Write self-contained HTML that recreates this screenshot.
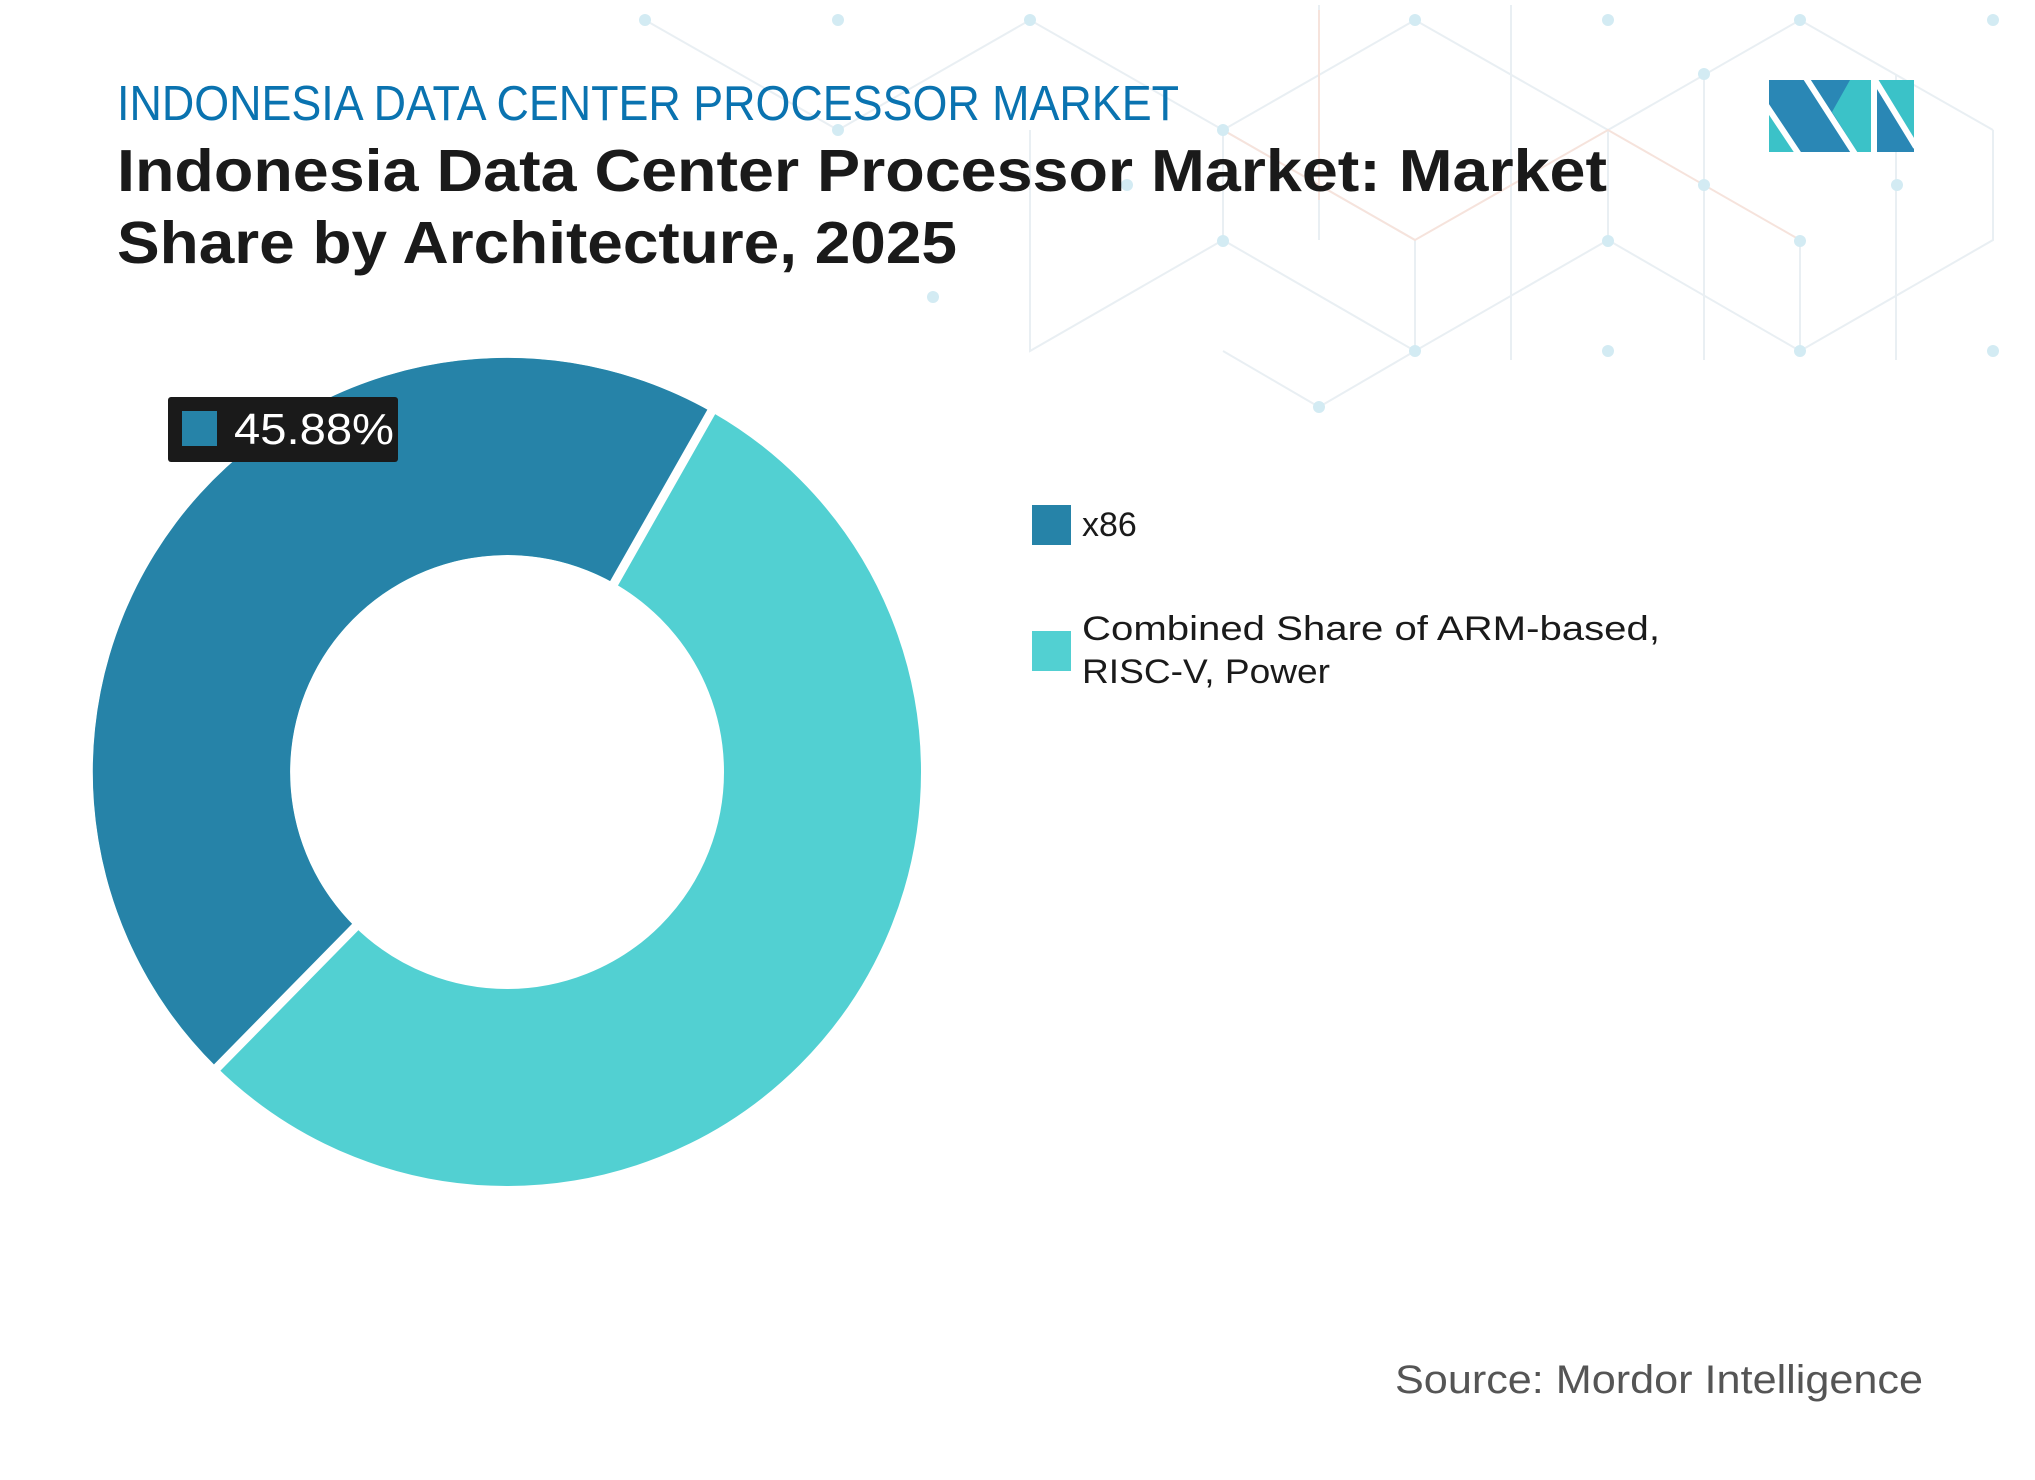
<!DOCTYPE html>
<html><head><meta charset="utf-8"><style>html,body{margin:0;padding:0;background:#fff}svg{display:block}</style></head>
<body>
<svg width="2035" height="1480" viewBox="0 0 2035 1480" xmlns="http://www.w3.org/2000/svg" font-family="'Liberation Sans', sans-serif">
<rect width="2035" height="1480" fill="#fff"/>
<g stroke="#e9eff3" stroke-width="2" fill="none">
<path d="M645 20 L838 130 L1030 20 L1223 130 L1415 20 L1608 130 L1800 20 L1993 130"/>
<path d="M1223 130 V240 L1415 351 L1608 240 V130 M1608 240 L1800 351 L1993 240 V130 M1415 351 V240 L1223 130 M1800 351 V240"/>
<path d="M1223 240 L1030 351 V130 M1319 407 L1415 351 M1030 351 L1223 240 M1319 407 L1223 351"/>
<path d="M1319 5 V240 M1511 5 V360 M1704 75 V360 M1896 75 V360"/>
</g>
<g stroke="#f6e3dc" stroke-width="2" fill="none"><path d="M1223 130 L1415 240 L1608 130 L1800 240 M1319 10 V200"/></g>
<g fill="#d3ebf3">
<circle cx="645" cy="20" r="6"/><circle cx="838" cy="20" r="6"/><circle cx="1030" cy="20" r="6"/><circle cx="1415" cy="20" r="6"/><circle cx="1608" cy="20" r="6"/><circle cx="1800" cy="20" r="6"/><circle cx="1993" cy="20" r="6"/>
<circle cx="1704" cy="74" r="6"/><circle cx="1223" cy="130" r="6"/><circle cx="838" cy="130" r="6"/><circle cx="1127" cy="185" r="6"/><circle cx="1704" cy="185" r="6"/><circle cx="1897" cy="185" r="6"/>
<circle cx="1223" cy="241" r="6"/><circle cx="1608" cy="241" r="6"/><circle cx="1800" cy="241" r="6"/><circle cx="933" cy="297" r="6"/>
<circle cx="1415" cy="351" r="6"/><circle cx="1608" cy="351" r="6"/><circle cx="1800" cy="351" r="6"/><circle cx="1993" cy="351" r="6"/><circle cx="1319" cy="407" r="6"/>
</g>
<text x="117" y="120" font-size="49" fill="#0a73b0" textLength="1062" lengthAdjust="spacingAndGlyphs">INDONESIA DATA CENTER PROCESSOR MARKET</text>
<text x="117" y="191" font-size="59" font-weight="bold" fill="#1a1a1a" textLength="1490" lengthAdjust="spacingAndGlyphs">Indonesia  Data Center Processor Market: Market</text>
<text x="117" y="263" font-size="59" font-weight="bold" fill="#1a1a1a" textLength="840" lengthAdjust="spacingAndGlyphs">Share by Architecture, 2025</text>
<g>
<rect x="1769" y="80" width="102" height="72" fill="#2a87b5"/>
<polygon points="1769,108 1769,152 1797,152" fill="#3bc2c8"/>
<polygon points="1832,112 1850,80 1871,80 1871,152 1857,152" fill="#3bc2c8"/>
<path d="M1766 105 L1800 156 M1806 78 L1855 154" stroke="#fff" stroke-width="6"/>
<rect x="1877" y="80" width="37" height="72" fill="#3bc2c8"/>
<polygon points="1877,88 1914,148 1914,152 1877,152" fill="#2a87b5"/>
<path d="M1875 80 L1916 147" stroke="#fff" stroke-width="6"/>
</g>
<circle cx="507" cy="772" r="315.5" fill="none" stroke="#52d0d2" stroke-width="197"/>
<path d="M217.3 1067.8 A414 414 0 0 1 711.5 412 L614.2 583.3 A217 217 0 0 0 355.2 927 Z" fill="#2683a8"/>
<path d="M370 912 L202 1083 M604 601 L722 393" stroke="#fff" stroke-width="9"/>
<rect x="168" y="397" width="230" height="65" rx="3" fill="#1a1a1a"/>
<rect x="182" y="411" width="35" height="35" fill="#2683a8"/>
<text x="234" y="444" font-size="44" fill="#fff" textLength="160" lengthAdjust="spacingAndGlyphs">45.88%</text>
<rect x="1032" y="505" width="39" height="40" fill="#2683a8"/>
<text x="1082" y="536" font-size="34" fill="#1a1a1a">x86</text>
<rect x="1032" y="631" width="39" height="40" fill="#52d0d2"/>
<text x="1082" y="640" font-size="34" fill="#1a1a1a" textLength="578" lengthAdjust="spacingAndGlyphs">Combined Share of ARM-based,</text>
<text x="1082" y="683" font-size="34" fill="#1a1a1a" textLength="248" lengthAdjust="spacingAndGlyphs">RISC-V, Power</text>
<text x="1923" y="1393" font-size="40" fill="#555" text-anchor="end" textLength="528" lengthAdjust="spacingAndGlyphs">Source: Mordor Intelligence</text>
</svg>
</body></html>
